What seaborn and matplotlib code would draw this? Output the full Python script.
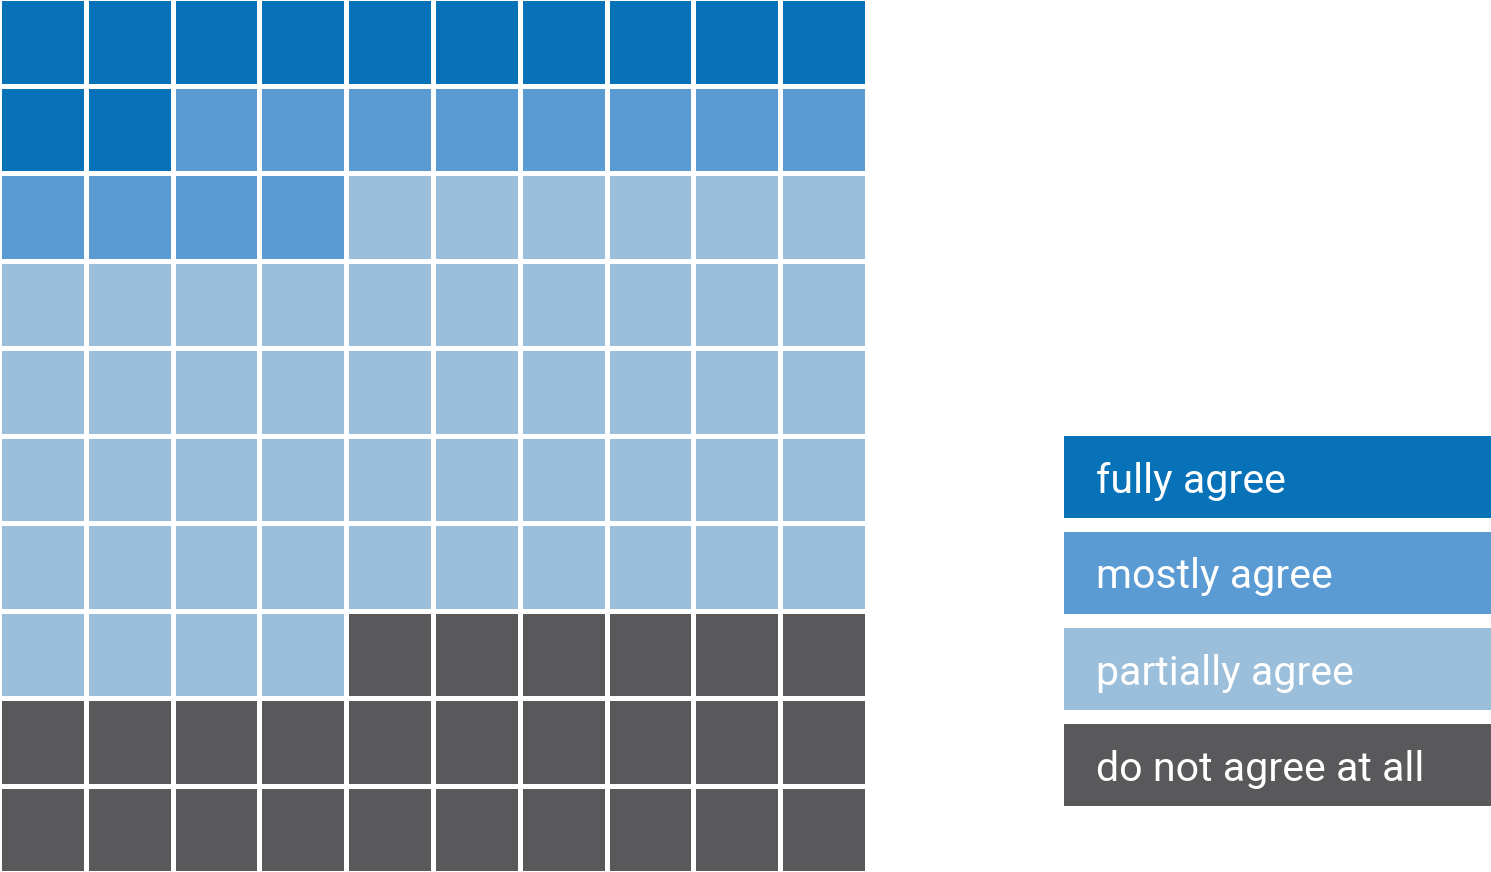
import numpy as np
import matplotlib
matplotlib.use("Agg")
import matplotlib.pyplot as plt
from matplotlib.colors import ListedColormap
from matplotlib.patches import Rectangle
import seaborn as sns

# waffle data (100 squares)
categories = ["fully agree", "mostly agree", "partially agree", "do not agree at all"]
counts = [12, 12, 50, 26]
colors = ["#0872b9", "#5b9bd4", "#9bbeda", "#59595b"]

# fill a 10x10 grid row by row
cells = np.repeat(np.arange(len(categories)), counts).reshape(10, 10)

fig = plt.figure(figsize=(14.91, 8.72), dpi=100)
W, H = 1491, 872

ax = fig.add_axes([-1 / W, -1 / H, 868 / W, 1 + 3 / H])
sns.heatmap(cells, cmap=ListedColormap(colors), vmin=-0.5, vmax=len(categories) - 0.5,
            cbar=False, linewidths=3.4, linecolor="white", square=False,
            xticklabels=False, yticklabels=False, ax=ax)
ax.set_xlabel("")
ax.set_ylabel("")

# legend boxes on the right
box_tops = [436, 532, 628, 724]
for cat, col, top in zip(categories, colors, box_tops):
    fig.patches.append(Rectangle((1064 / W, 1 - (top + 82) / H), (W - 1064) / W, 82 / H,
                                 transform=fig.transFigure, facecolor=col, edgecolor="none"))
    fig.text(1096 / W, 1 - (top + 45) / H, cat, color="white", fontsize=29.6,
             family="Roboto", weight="normal", va="center", ha="left")

fig.savefig("out.png", dpi=100)
